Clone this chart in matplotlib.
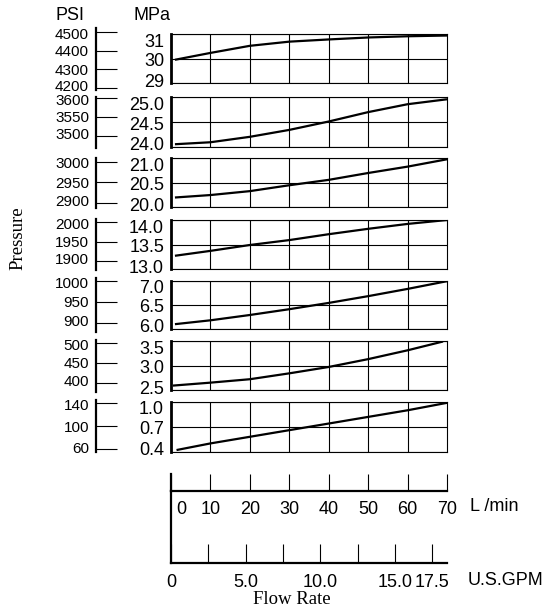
import matplotlib
matplotlib.use("Agg")
import matplotlib.pyplot as plt
from matplotlib.transforms import ScaledTranslation

# Font mirip Arial
plt.rcParams['font.family'] = ['Liberation Sans', 'DejaVu Sans']

# Data: aliran (L/min) dan tekanan (MPa) per panel, dari atas ke bawah
flow = [
    [1, 10, 20, 30, 40, 50, 60, 70],
    [1, 10, 20, 30, 40, 50, 60, 70],
    [1, 10, 20, 30, 40, 50, 60, 70],
    [1, 10, 20, 30, 40, 50, 60, 70],
    [1, 10, 20, 30, 40, 50, 60, 70],
    [0.5, 10, 20, 30, 40, 50, 60, 69],
    [1.4, 10, 20, 30, 40, 50, 60, 70],
]
mpa = [
    [29.96, 30.24, 30.53, 30.70, 30.79, 30.87, 30.92, 30.95],
    [24.05, 24.09, 24.20, 24.34, 24.51, 24.70, 24.86, 24.96],
    [20.20, 20.25, 20.33, 20.45, 20.56, 20.70, 20.83, 20.98],
    [13.27, 13.37, 13.49, 13.59, 13.71, 13.82, 13.92, 14.00],
    [6.10, 6.18, 6.29, 6.41, 6.54, 6.68, 6.83, 6.99],
    [2.59, 2.65, 2.72, 2.84, 2.97, 3.13, 3.31, 3.49],
    [0.42, 0.50, 0.58, 0.66, 0.74, 0.82, 0.90, 0.99],
]
mpa_ticks = [
    [29, 30, 31],
    [24.0, 24.5, 25.0],
    [20.0, 20.5, 21.0],
    [13.0, 13.5, 14.0],
    [6.0, 6.5, 7.0],
    [2.5, 3.0, 3.5],
    [0.4, 0.7, 1.0],
]
mpa_labels = [
    ['29', '30', '31'],
    ['24.0', '24.5', '25.0'],
    ['20.0', '20.5', '21.0'],
    ['13.0', '13.5', '14.0'],
    ['6.0', '6.5', '7.0'],
    ['2.5', '3.0', '3.5'],
    ['0.4', '0.7', '1.0'],
]
psi_ticks = [
    [4200, 4300, 4400, 4500],
    [3500, 3550, 3600],
    [2900, 2950, 3000],
    [1900, 1950, 2000],
    [900, 950, 1000],
    [400, 450, 500],
    [60, 100, 140],
]
lmin_ticks = [0, 10, 20, 30, 40, 50, 60, 70]
gpm_ticks = [0, 2.5, 5.0, 7.5, 10.0, 12.5, 15.0, 17.5]
gpm_labels = ['0', '', '5.0', '', '10.0', '', '15.0', '17.5']
L_PER_GPM = 3.785

# Tata letak (piksel)
W, H = 554, 613
mpa_box = [(34.3, 83.3), (97.3, 146.7), (158.3, 207.3), (220, 269),
           (280.7, 329), (341, 390), (402, 451.7)]
psi_box = [(28, 89.5, 32.5, 88), (96.5, 148.3, 98, 135.5), (158, 207.5, 161.5, 202.5),
           (219, 270, 222, 261), (278, 331.7, 280.7, 322.7), (340, 392, 342.7, 382.7),
           (400, 451.7, 402.7, 449.3)]

fig = plt.figure(figsize=(W / 100, H / 100), dpi=100)


def px_axes(left, top, right, bottom):
    return fig.add_axes([left / W, 1 - bottom / H, (right - left) / W, (bottom - top) / H])


def shift(label, dx_px, dy_px):
    label.set_transform(label.get_transform() +
                        ScaledTranslation(dx_px / 100, dy_px / 100, fig.dpi_scale_trans))


for i in range(7):
    # Panel MPa
    ax = px_axes(171, mpa_box[i][0], 447, mpa_box[i][1])
    ax.plot(flow[i], mpa[i], color='black', lw=1.6, solid_capstyle='butt')
    ax.set_xlim(0, 70)
    ax.set_ylim(mpa_ticks[i][0], mpa_ticks[i][-1])
    ax.set_xticks(range(10, 70, 10))
    ax.set_yticks(mpa_ticks[i])
    ax.set_yticklabels(mpa_labels[i])
    ax.grid(True, color='black', lw=0.8)
    ax.tick_params(axis='x', length=0, labelbottom=False)
    ax.tick_params(axis='y', length=0, pad=5, labelsize=13)
    for s in ['top', 'bottom', 'right']:
        ax.spines[s].set_linewidth(0.8)
    ax.spines['left'].set_linewidth(2)
    ylbl = ax.get_yticklabels()
    shift(ylbl[0], 0, 3)
    shift(ylbl[1], 0, -1)
    shift(ylbl[2], 0, -6)

    # Sumbu PSI
    top, bot, t_hi, t_lo = psi_box[i]
    hi, lo = max(psi_ticks[i]), min(psi_ticks[i])
    scale = (hi - lo) / (t_lo - t_hi)
    pax = px_axes(96, top, 117, bot)
    pax.patch.set_visible(False)
    pax.set_ylim(lo - (bot - t_lo) * scale, hi + (t_hi - top) * scale)
    pax.set_xticks([])
    pax.set_yticks(psi_ticks[i])
    pax.tick_params(axis='y', direction='in', length=15, width=0.8, pad=5, labelsize=11)
    for s in ['top', 'bottom', 'right']:
        pax.spines[s].set_visible(False)
    pax.spines['left'].set_linewidth(1.6)
    plbl = pax.get_yticklabels()
    shift(plbl[0], 0, 2)
    shift(plbl[-1], 0, -1.5)

# Sumbu L/min
axl = px_axes(171, 474, 447, 491)
axl.patch.set_visible(False)
axl.set_xlim(0, 70)
axl.set_xticks(lmin_ticks)
axl.set_yticks([])
axl.tick_params(axis='x', direction='in', length=12.2, width=0.8, pad=7, labelsize=13)
for s in ['top', 'right']:
    axl.spines[s].set_visible(False)
axl.spines['left'].set_linewidth(1.6)
axl.spines['bottom'].set_linewidth(1.6)
shift(axl.get_xticklabels()[0], 10, 0)
axl.annotate('L /min', xy=(1, 0), xycoords='axes fraction', xytext=(16.5, -11.5),
             textcoords='offset points', va='center', ha='left', fontsize=13)

# Sumbu U.S.GPM
axg = px_axes(171, 491, 447, 563)
axg.patch.set_visible(False)
axg.set_xlim(0, 70 / L_PER_GPM)
axg.set_xticks(gpm_ticks)
axg.set_xticklabels(gpm_labels)
axg.set_yticks([])
axg.tick_params(axis='x', direction='in', length=13.7, width=0.8, pad=8, labelsize=13)
for s in ['top', 'right']:
    axg.spines[s].set_visible(False)
axg.spines['left'].set_linewidth(1.6)
axg.spines['bottom'].set_linewidth(1.6)
axg.annotate('U.S.GPM', xy=(1, 0), xycoords='axes fraction', xytext=(15, -12.5),
             textcoords='offset points', va='center', ha='left', fontsize=13)

# Judul sumbu dan header
fig.text(70 / W, 1 - 15 / H, 'PSI', ha='center', va='center', fontsize=13)
fig.text(152 / W, 1 - 15 / H, 'MPa', ha='center', va='center', fontsize=13)
fig.text(292 / W, 1 - 600 / H, 'Flow Rate', ha='center', va='center', fontsize=13.5,
         family='Liberation Serif')
fig.text(18 / W, 1 - 238 / H, 'Pressure', ha='center', va='center', fontsize=13.5,
         rotation=90, family='Liberation Serif')

fig.savefig('out.png', dpi=100)
